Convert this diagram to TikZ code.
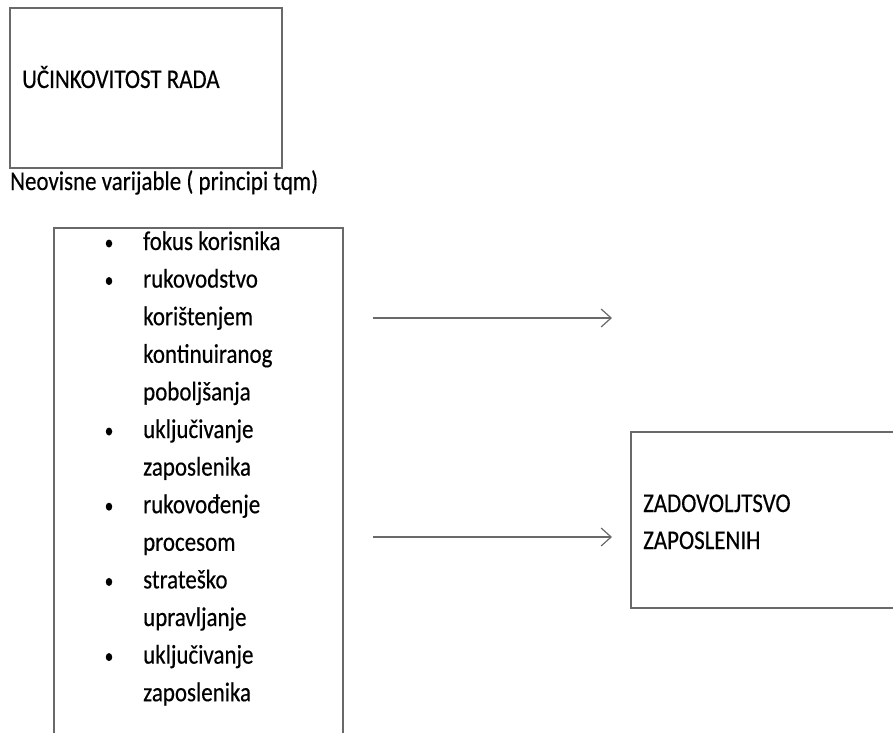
\documentclass[tikz,border=0pt]{standalone}
\usepackage{fontspec}
\setmainfont[FakeStretch=0.85,FakeBold=0.4]{Carlito}
\usetikzlibrary{arrows.meta,shapes.geometric}
\definecolor{linegray}{RGB}{105,105,105}
\tikzset{
  frame/.style={draw=linegray, line width=1.6pt, rectangle, inner sep=0pt},
  edge/.style={draw=linegray, line width=1.6pt},
  lbl/.style={anchor=base west, inner sep=0pt, font=\fontsize{27}{32}\selectfont, text=black},
  bul/.style={ellipse, fill=black, inner sep=0pt, minimum width=6.5pt, minimum height=8pt},
  arr/.style={draw=linegray, line width=1.3pt, -{Straight Barb[length=10pt,width=18pt,line width=1.2pt]}}
}
\begin{document}
\begin{tikzpicture}[x=1pt,y=-1pt]
\useasboundingbox (0,0) rectangle (893,733);
% boxes
\node[frame, minimum width=272pt, minimum height=160pt] (ucin) at (146,88) {};
% list box, open below the lower edge
\coordinate (lb1) at (54,733);
\coordinate (lt1) at (54,228);
\coordinate (lt2) at (343,228);
\coordinate (lb2) at (343,733);
\draw[edge] (lb1) -- (lt1) -- (lt2) -- (lb2);
% right box, open beyond the right edge
\coordinate (zr1) at (893,432);
\coordinate (zl1) at (631,432);
\coordinate (zl2) at (631,608);
\coordinate (zr2) at (893,608);
\draw[edge] (zr1) -- (zl1) -- (zl2) -- (zr2);
% texts
\node[lbl] (t1) at (22,88) {UČINKOVITOST RADA};
\node[lbl] (t2) at (10,190) {Neovisne varijable ( principi tqm)};
\foreach \k/\txt/\b in {0/fokus korisnika/1, 1/rukovodstvo/1, 2/korištenjem/0, 3/kontinuiranog/0, 4/poboljšanja/0, 5/uključivanje/1, 6/zaposlenika/0, 7/rukovođenje/1, 8/procesom/0, 9/strateško/1, 10/upravljanje/0, 11/uključivanje/1, 12/zaposlenika/0}{
  \node[lbl] (li\k) at (143,{250+37.6*\k}) {\txt};
  \ifnum\b=1 \node[bul] (b\k) at (109,{243.5+37.6*\k}) {};\fi
}
\node[lbl] (z1) at (643,512) {ZADOVOLJTSVO};
\node[lbl] (z2) at (643,549) {ZAPOSLENIH};
% arrows
\coordinate (a1s) at (373,318);
\coordinate (a1e) at (612,318);
\coordinate (a2s) at (373,537);
\coordinate (a2e) at (612,537);
\draw[arr] (a1s) -- (a1e);
\draw[arr] (a2s) -- (a2e);
\end{tikzpicture}
\end{document}
